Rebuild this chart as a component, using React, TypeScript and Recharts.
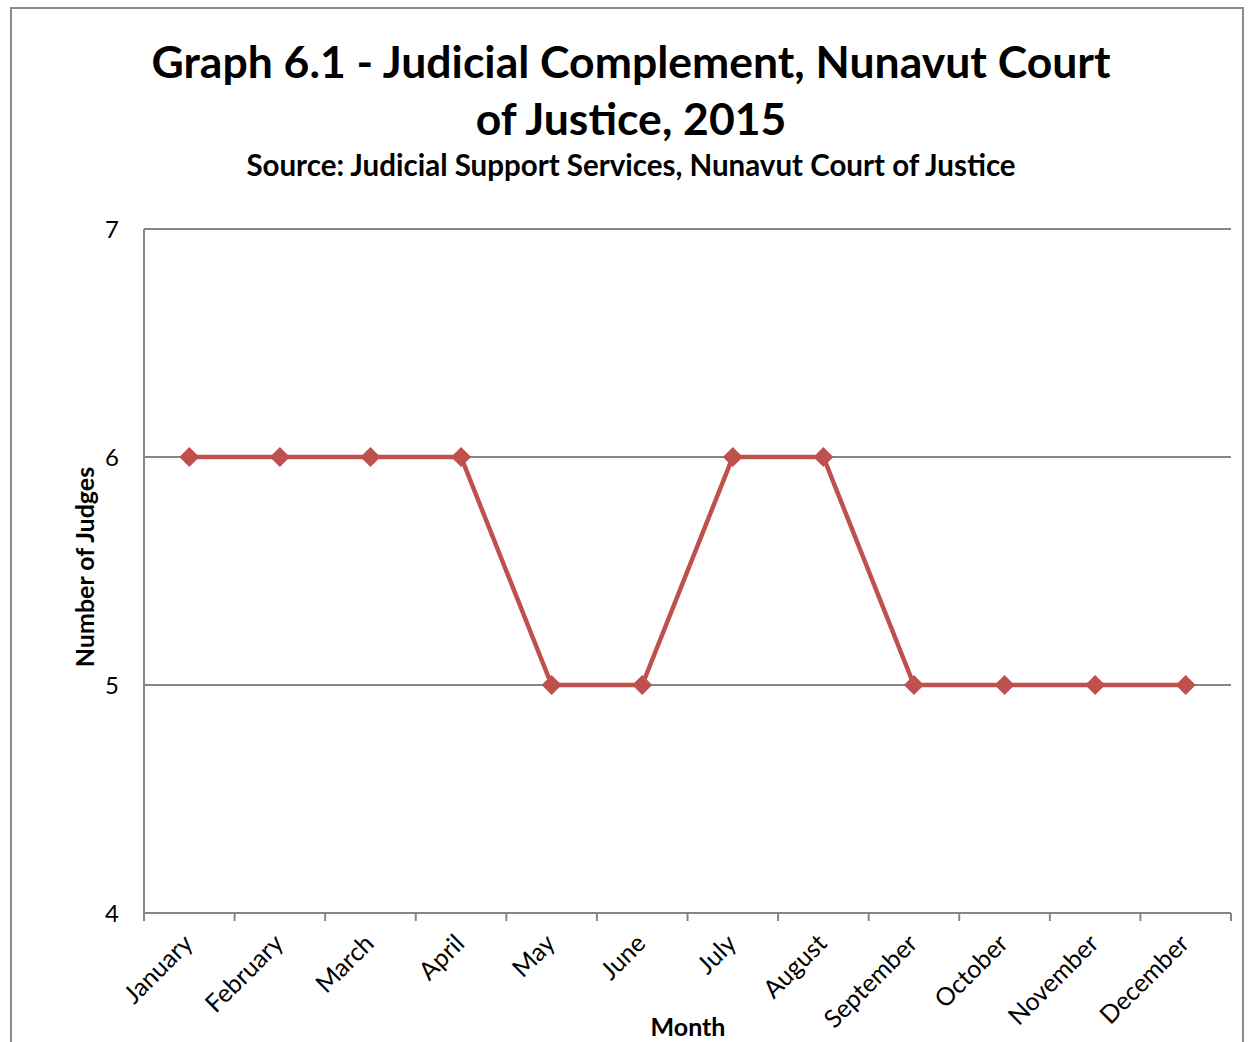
import React from 'react';
import { LineChart, Line, XAxis, YAxis, CartesianGrid } from 'recharts';

const months = [
  'January', 'February', 'March', 'April', 'May', 'June',
  'July', 'August', 'September', 'October', 'November', 'December',
];
const judges = [6, 6, 6, 6, 5, 5, 6, 6, 5, 5, 5, 5];
const yTicks = [4, 5, 6, 7];

const data = months.map((month, i) => ({ month, judges: judges[i] }));

const W = 1248;
const H = 1042;
const PLOT_LEFT = 144;
const PLOT_RIGHT = 1231;
const BAND = (PLOT_RIGHT - PLOT_LEFT) / months.length;
const LINE_COLOR = '#C0504D';
const GRID = '#868686';
const FONT = 'Lato, "Open Sans", sans-serif';

const Diamond = (props: any) => {
  const { cx, cy } = props;
  if (cx == null || cy == null) return null;
  const r = 10;
  return (
    <polygon
      points={`${cx},${cy - r} ${cx + r},${cy} ${cx},${cy + r} ${cx - r},${cy}`}
      fill={LINE_COLOR}
    />
  );
};

const MonthTick = (props: any) => {
  const { x, y, payload, index } = props;
  const last = index === months.length - 1;
  const tx = x + 5;
  const ty = y + 24;
  return (
    <g>
      <line x1={x - BAND / 2} y1={y - 8} x2={x - BAND / 2} y2={y} stroke={GRID} strokeWidth={2} />
      {last && (
        <line x1={x + BAND / 2} y1={y - 8} x2={x + BAND / 2} y2={y} stroke={GRID} strokeWidth={2} />
      )}
      <text
        x={tx}
        y={ty}
        textAnchor="end"
        fontSize={25}
        fill="#000"
        fontFamily={FONT}
        transform={`rotate(-45, ${tx}, ${ty})`}
      >
        {payload.value}
      </text>
    </g>
  );
};

export default function App() {
  return (
    <div
      style={{
        position: 'absolute',
        left: 0,
        top: 0,
        width: W,
        height: H,
        background: '#fff',
        overflow: 'hidden',
        fontFamily: FONT,
      }}
    >
      <div
        style={{
          position: 'absolute',
          left: 10,
          top: 7,
          width: 1230,
          height: 1100,
          border: '2px solid #8c8c8c',
        }}
      />
      <div
        style={{
          position: 'absolute',
          left: 0,
          top: 32,
          width: 1262,
          textAlign: 'center',
          fontSize: 44.5,
          fontWeight: 700,
          lineHeight: '57px',
          color: '#000',
        }}
      >
        Graph 6.1 - Judicial Complement, Nunavut Court
        <br />
        of Justice, 2015
      </div>
      <div
        style={{
          position: 'absolute',
          left: 0,
          top: 147,
          width: 1262,
          textAlign: 'center',
          fontSize: 29.5,
          fontWeight: 700,
          color: '#000',
        }}
      >
        Source: Judicial Support Services, Nunavut Court of Justice
      </div>
      <div
        style={{
          position: 'absolute',
          left: 84 - 150,
          top: 567 - 16,
          width: 300,
          textAlign: 'center',
          fontSize: 25,
          fontWeight: 700,
          lineHeight: '32px',
          transform: 'rotate(-90deg)',
          color: '#000',
        }}
      >
        Number of Judges
      </div>
      <div
        style={{
          position: 'absolute',
          left: 688 - 100,
          top: 1011,
          width: 200,
          textAlign: 'center',
          fontSize: 25,
          fontWeight: 700,
          color: '#000',
        }}
      >
        Month
      </div>
      <div style={{ position: 'absolute', left: 0, top: 0 }}>
        <LineChart
          width={W}
          height={H}
          data={data}
          margin={{ top: 229, right: W - PLOT_RIGHT, bottom: 29, left: 0 }}
        >
          <CartesianGrid vertical={false} stroke={GRID} strokeWidth={2} />
          <XAxis
            dataKey="month"
            height={100}
            interval={0}
            padding={{ left: BAND / 2, right: BAND / 2 }}
            tickLine={false}
            axisLine={{ stroke: GRID, strokeWidth: 2 }}
            tick={<MonthTick />}
          />
          <YAxis
            width={PLOT_LEFT}
            domain={[4, 7]}
            ticks={yTicks}
            tickLine={false}
            tickSize={22}
            tickMargin={3}
            axisLine={{ stroke: GRID, strokeWidth: 2 }}
            tick={{ fill: '#000', fontSize: 24, fontFamily: FONT }}
          />
          <Line
            type="linear"
            dataKey="judges"
            stroke={LINE_COLOR}
            strokeWidth={4.5}
            dot={<Diamond />}
            activeDot={false}
            isAnimationActive={false}
          />
        </LineChart>
      </div>
    </div>
  );
}
